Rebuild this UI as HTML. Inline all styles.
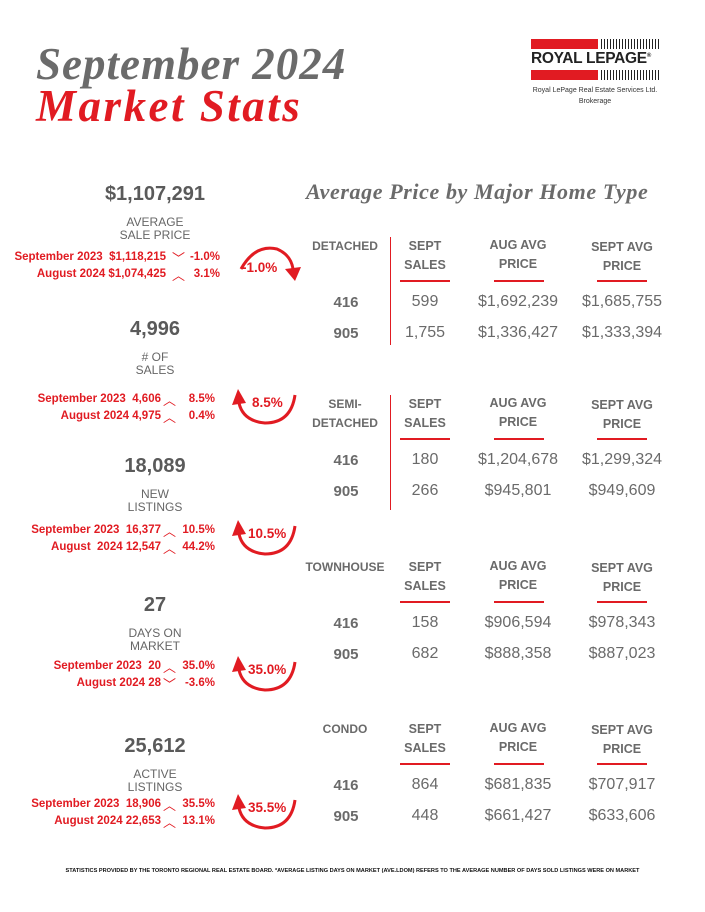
<!DOCTYPE html>
<html><head><meta charset="utf-8">
<style>
body{margin:0;width:705px;height:912px;background:#fff;position:relative;overflow:hidden;font-family:"Liberation Sans",sans-serif}
.a{position:absolute;white-space:nowrap}
.t{font-family:"Liberation Serif",serif;font-style:italic;font-weight:bold;font-size:45px;line-height:48px}
.big{font-weight:bold;font-size:20px;color:#5a5a5a;text-align:center;width:310px;left:0}
.lab{font-size:12px;color:#666;text-align:center;width:310px;left:0;line-height:13px}
.r{color:#e11b22;font-weight:bold;font-size:11.5px}
.h{font-weight:bold;font-size:12.5px;color:#6a6a6a;text-align:center;line-height:19px}
.v{font-size:16px;color:#6a6a6a;text-align:center}
.k{font-weight:bold;font-size:15px;color:#6a6a6a;text-align:center;width:60px;left:316px}
.u{position:absolute;height:2px;background:#e11b22}
.pct{color:#e11b22;font-weight:bold;font-size:13.5px}
</style></head><body>
<div class="a t" style="left:36px;top:40px;color:#6b6b6b;letter-spacing:1px">September 2024</div>
<div class="a t" style="left:36px;top:82px;color:#e11b22;letter-spacing:2.5px">Market Stats</div>
<div class="a" style="left:531px;top:39px;width:132px;height:70px">
 <div style="position:absolute;left:0;top:0;width:67px;height:10px;background:#e11b22"></div>
 <div style="position:absolute;left:70px;top:0;width:58px;height:10px;background:repeating-linear-gradient(90deg,#222 0 1px,#fff 1px 3px)"></div>
 <div style="position:absolute;left:0;top:11px;font-weight:bold;font-size:15.5px;color:#222;letter-spacing:-0.3px">ROYAL LEPAGE<sup style="font-size:6px">®</sup></div>
 <div style="position:absolute;left:0;top:31px;width:67px;height:10px;background:#e11b22"></div>
 <div style="position:absolute;left:70px;top:31px;width:58px;height:10px;background:repeating-linear-gradient(90deg,#222 0 1px,#fff 1px 3px)"></div>
 <div style="position:absolute;left:-6px;top:46px;width:140px;text-align:center;font-size:7px;color:#333;line-height:11px">Royal LePage Real Estate Services Ltd.<br>Brokerage</div>
</div>

<div class="a" style="left:306px;top:179px;font-family:'Liberation Serif',serif;font-style:italic;font-weight:bold;font-size:22px;letter-spacing:0.6px;color:#6b6b6b">Average Price by Major Home Type</div>

<div id="left"></div>
<div id="right"></div>

<div class="a" style="left:0;width:705px;text-align:center;top:868px;font-size:5.6px;font-weight:bold;color:#111">STATISTICS PROVIDED BY THE TORONTO REGIONAL REAL ESTATE BOARD. *AVERAGE LISTING DAYS ON MARKET (AVE.LDOM) REFERS TO THE AVERAGE NUMBER OF DAYS SOLD LISTINGS WERE ON MARKET</div>

<script>
const statValues=["$1,107,291","4,996","18,089","27","25,612"];
const statLabels=[["AVERAGE","SALE PRICE"],["# OF","SALES"],["NEW","LISTINGS"],["DAYS ON","MARKET"],["ACTIVE","LISTINGS"]];
const prevYear=["$1,118,215","4,606","16,377","20","18,906"];
const prevYearPct=["-1.0%","8.5%","10.5%","35.0%","35.5%"];
const prevMonth=["$1,074,425","4,975","12,547","28","22,653"];
const prevMonthPct=["3.1%","0.4%","44.2%","-3.6%","13.1%"];
const prevYearUp=[false,true,true,true,true];
const prevMonthUp=[true,true,true,false,true];
const blockTop=[183,318,455,594,735];
const rowTop=[251,393,524,660,798];

const homeTypes=[["DETACHED"],["SEMI-","DETACHED"],["TOWNHOUSE"],["CONDO"]];
const salesData=[[599,"1,755"],[180,266],[158,682],[864,448]];
const augPrice=[["$1,692,239","$1,336,427"],["$1,204,678","$945,801"],["$906,594","$888,358"],["$681,835","$661,427"]];
const septPrice=[["$1,685,755","$1,333,394"],["$1,299,324","$949,609"],["$978,343","$887,023"],["$707,917","$633,606"]];
const tableTop=[237,395,558,720];

const L=document.getElementById('left');
function add(parent,html,cls,style,name){const d=document.createElement('div');d.className='a '+cls;d.setAttribute('style',style);d.innerHTML=html;


parent.appendChild(d);return d;}
statValues.forEach((v,i)=>{
 const t=blockTop[i];
 add(L,v,'big','top:'+t+'px','stat-value');
 add(L,statLabels[i].join('<br>'),'lab','top:'+(t+33)+'px','stat-label');
 const r=rowTop[i];
 const lab2=i==2?'August&nbsp; 2024':'August 2024';
 const rt=i==0?539:544;
 add(L,'September 2023&nbsp; '+prevYear[i],'r','right:'+rt+'px;top:'+r+'px;text-align:right','prev-year-value');
 add(L,lab2+' '+prevMonth[i],'r','right:'+rt+'px;top:'+(r+17)+'px;text-align:right','prev-month-value');
 const cx=i==0?172:163;
 add(L,'<span style="font-weight:normal;font-size:13px">'+(prevYearUp[i]?'︿':'﹀')+'</span>','r','left:'+cx+'px;top:'+(r-3)+'px','prev-year-trend-icon');
 add(L,'<span style="font-weight:normal;font-size:13px">'+(prevMonthUp[i]?'︿':'﹀')+'</span>','r','left:'+cx+'px;top:'+(r+14)+'px','prev-month-trend-icon');
 add(L,prevYearPct[i],'r','right:'+(i==0?485:490)+'px;top:'+r+'px;text-align:right','prev-year-pct');
 add(L,prevMonthPct[i],'r','right:'+(i==0?485:490)+'px;top:'+(r+17)+'px;text-align:right','prev-month-pct');
 const NS='http://www.w3.org/2000/svg';
 const s=document.createElementNS(NS,'svg');
 s.setAttribute('width','80');s.setAttribute('height','50');
 s.setAttribute('style','position:absolute;left:225px;top:'+(r-12)+'px');
 
 
 if(!prevYearUp[i]){
  s.innerHTML='<path d="M16 30 Q30 5 52 10 Q66 16 68 30" fill="none" stroke="#e11b22" stroke-width="3"/><polygon points="60,30 76,28 70,42" fill="#e11b22"/>';
 } else {
  s.innerHTML='<path d="M70 14 Q66 42 40 42 Q18 40 14 22" fill="none" stroke="#e11b22" stroke-width="3"/><polygon points="7,24 21,22 13,8" fill="#e11b22"/>';
 }
 L.appendChild(s);
 add(L,prevYearPct[i],'pct','left:'+(i==0?242:(i==1?252:248))+'px;top:'+(i==0?r+9:r+2)+'px','arrow-pct-label');
});

const R=document.getElementById('right');
homeTypes.forEach((ht,i)=>{
 const t=tableTop[i];
 add(R,ht.join('<br>'),'h','left:300px;width:90px;top:'+t+'px;text-align:center;font-size:12px','home-type-label');
 add(R,'SEPT<br>SALES','h','left:385px;width:80px;top:'+t+'px','sept-sales-header');
 add(R,'AUG AVG<br>PRICE','h','left:468px;width:100px;top:'+(t-1)+'px','aug-avg-header');
 add(R,'SEPT AVG<br>PRICE','h','left:572px;width:100px;top:'+(t+1)+'px','sept-avg-header');
 [[400,50],[494,50],[597,50]].forEach(([x,w])=>{const u=document.createElement('div');u.className='u';u.setAttribute('style','left:'+x+'px;width:'+w+'px;top:'+(t+43)+'px');
 
 
 R.appendChild(u);});
 const dv=document.createElement('div');dv.className='u';dv.setAttribute('style','left:390px;width:1px;top:'+t+'px;height:'+(i==0?108:(i==1?115:0))+'px');
 
 
 R.appendChild(dv);
 ['416','905'].forEach((k,j)=>{
  const y=t+56+j*31;
  add(R,k,'k','top:'+(y+1)+'px','area-code');
  add(R,salesData[i][j],'v','left:385px;width:80px;top:'+y+'px','sept-sales-value');
  add(R,augPrice[i][j],'v','left:463px;width:110px;top:'+y+'px','aug-avg-value');
  add(R,septPrice[i][j],'v','left:567px;width:110px;top:'+y+'px','sept-avg-value');
 });
});
</script>
</body></html>
